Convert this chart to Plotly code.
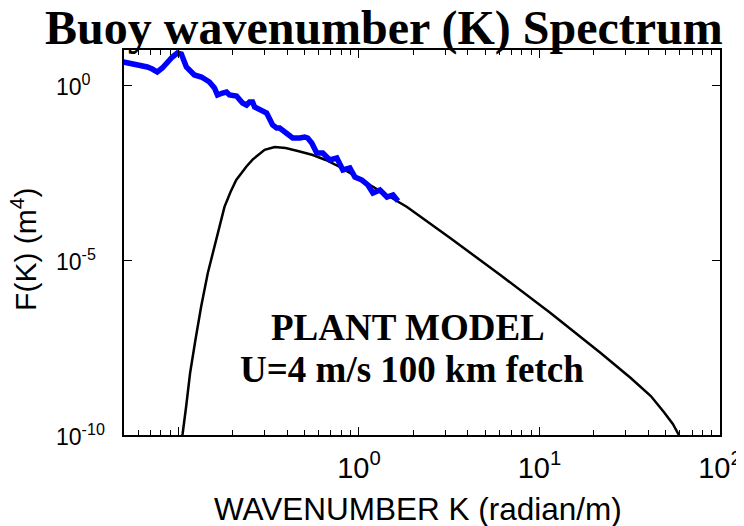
import plotly.graph_objects as go
import math

# Buoy spectrum (blue)
k_buoy = [0.0495, 0.0534, 0.0569, 0.0623, 0.0673, 0.0717, 0.0764, 0.0815, 0.0869, 0.0926,
          0.0987, 0.1039, 0.1108, 0.1166, 0.1227, 0.1342, 0.1431, 0.1487, 0.1585, 0.1647,
          0.1756, 0.1848, 0.1920, 0.2100, 0.2268, 0.2386, 0.2479, 0.2577, 0.2644, 0.2818,
          0.2929, 0.3083, 0.3328, 0.3503, 0.3640, 0.3981, 0.4300, 0.4703, 0.5012, 0.5207,
          0.5481, 0.5843, 0.6310, 0.6901, 0.7548, 0.8150, 0.8913, 0.9502, 1.039, 1.122,
          1.196, 1.308, 1.431, 1.545, 1.647]
F_buoy = [4.54, 4.25, 3.98, 3.49, 3.27, 2.86, 2.35, 3.06, 4.54, 6.31,
          8.21, 7.69, 3.27, 2.51, 1.93, 1.69, 1.39, 1.22, 0.821, 0.518,
          0.590, 0.631, 0.518, 0.485, 0.306, 0.268, 0.327, 0.327, 0.235, 0.193,
          0.169, 0.158, 0.0720, 0.0591, 0.0591, 0.0425, 0.0306, 0.0306, 0.0327, 0.0306,
          0.0220, 0.0114, 0.0114, 0.0072, 0.00821, 0.00373, 0.00425, 0.00235, 0.00193, 0.00139,
          0.00082, 0.0010, 0.000631, 0.00072, 0.000485]

# Plant model (black)
k_model = [0.1039, 0.1057, 0.1104, 0.1161, 0.1243, 0.1337, 0.1455, 0.1620, 0.1801, 0.1945,
           0.2092, 0.2239, 0.2377, 0.2577, 0.2818, 0.3004, 0.3415, 0.3930, 0.4703, 0.5553,
           0.6556, 0.7843, 0.9502, 1.151, 1.449, 1.848, 3.203, 6.072, 11.51, 21.83,
           32.03, 41.38, 48.86, 54.8, 59.2, 61.5]
F_model = [7.2e-11, 1.12e-10, 6.4e-10, 5.8e-9, 5.2e-8, 4.6e-7, 4.2e-6, 3.7e-5, 3.3e-4, 8.8e-4,
           1.93e-3, 3.06e-3, 4.63e-3, 7.4e-3, 0.0112, 0.0141, 0.0169, 0.0158, 0.0126, 0.0100,
           0.0072, 4.54e-3, 2.51e-3, 1.39e-3, 6.74e-4, 3.27e-4, 4.25e-5, 3.73e-6, 3.06e-7, 2.2e-8,
           4.25e-9, 1.3e-9, 4.54e-10, 2.06e-10, 1.0e-10, 6.7e-11]

x_major = [0.1, 1, 10, 100]
x_major_text = ["", "10<sup>0</sup>", "10<sup>1</sup>", "10<sup>2</sup>"]
x_minor = [0.06, 0.07, 0.08, 0.09, 0.2, 0.3, 0.4, 0.5, 0.6, 0.7, 0.8, 0.9,
           2, 3, 4, 5, 6, 7, 8, 9, 20, 30, 40, 50, 60, 70, 80, 90]
y_major = [1e-10, 1e-5, 1]
y_major_text = ["10<sup>-10</sup>", "10<sup>-5</sup>", "10<sup>0</sup>"]

SANS = "Liberation Sans, Arial, sans-serif"
SERIF = "Liberation Serif, Times New Roman, serif"

fig = go.Figure()
fig.add_trace(go.Scatter(x=k_model, y=F_model, mode="lines",
                         line=dict(color="black", width=2.5),
                         showlegend=False, hoverinfo="skip"))
fig.add_trace(go.Scatter(x=k_buoy, y=F_buoy, mode="lines",
                         line=dict(color="#0000ff", width=5.5),
                         showlegend=False, hoverinfo="skip"))

# page body has an 8px margin: size/margins compensate so the plot box sits at 124..720 x 50..435
fig.update_layout(
    width=736, height=518,
    margin=dict(l=116, r=24, t=42, b=91),
    paper_bgcolor="white", plot_bgcolor="white",
    showlegend=False,
)
fig.update_xaxes(
    type="log", range=[math.log10(0.05), 2], automargin=False,
    showgrid=False, zeroline=False,
    showline=True, linecolor="black", linewidth=1.5, mirror="ticks",
    ticks="inside", ticklen=8, tickwidth=1, tickcolor="black",
    tickvals=x_major, ticktext=x_major_text,
    tickfont=dict(family=SANS, size=29, color="black"),
    ticklabelstandoff=6,
    minor=dict(tickvals=x_minor, ticks="inside", ticklen=5, tickwidth=1, tickcolor="black", showgrid=False),
)
fig.update_yaxes(
    type="log", range=[-10, 1], automargin=False,
    showgrid=False, zeroline=False,
    showline=True, linecolor="black", linewidth=1.5, mirror="ticks",
    ticks="inside", ticklen=8, tickwidth=1, tickcolor="black",
    tickvals=y_major, showticklabels=False,
)

# y tick labels: MATLAB-style, base "10" aligned, exponent hanging right
for v, t in zip(y_major, y_major_text):
    fig.add_annotation(xref="paper", yref="y", x=-0.1174, y=math.log10(v), text=t,
                       showarrow=False, xanchor="left", yanchor="middle",
                       font=dict(family=SANS, size=23, color="black"))

ann = [
    dict(text="<b>Buoy wavenumber (K) Spectrum</b>", x=0.437, y=1.056,
         font=dict(family=SERIF, size=48, color="black")),
    dict(text="<b>PLANT MODEL</b>", x=0.4765, y=0.278,
         font=dict(family=SERIF, size=37, color="black")),
    dict(text="<b>U=4 m/s 100 km fetch</b>", x=0.483, y=0.171,
         font=dict(family=SERIF, size=37, color="black")),
    dict(text="WAVENUMBER K (radian/m)", x=0.493, y=-0.192,
         font=dict(family=SANS, size=31.5, color="black")),
    dict(text="F(K) (m<sup>4</sup>)", x=-0.168, y=0.483, textangle=-90,
         font=dict(family=SANS, size=30, color="black")),
]
for a in ann:
    fig.add_annotation(xref="paper", yref="paper", showarrow=False,
                       xanchor="center", yanchor="middle", **a)

fig.write_html("out.html")
